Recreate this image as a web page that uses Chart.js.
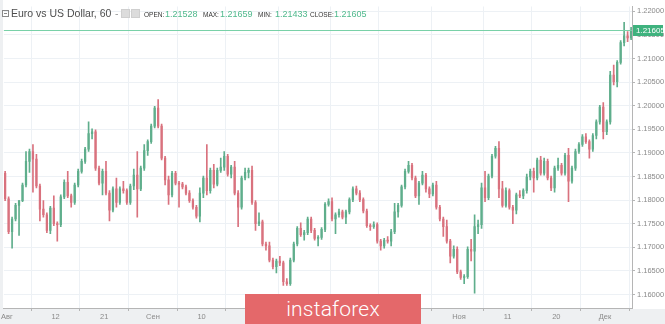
<!DOCTYPE html>
<html>
<head>
<meta charset="utf-8">
<script src="https://cdn.jsdelivr.net/npm/chart.js@4.4.1/dist/chart.umd.min.js"></script>
<style>
  body { margin: 0; background: #fff; }
  #wrap { position: relative; width: 665px; height: 324px; overflow: hidden; background: #fff; }
  #chart { position: absolute; left: 0; top: 0; }
  .hd { position: absolute; top: 7px; white-space: nowrap; font-family: "Liberation Sans", Arial, sans-serif; line-height: 12px; }
  .title { font-size: 10.5px; color: #4d4d4d; }
  .lbl { font-size: 6.5px; color: #333; top: 9px; }
  .val { font-size: 9px; color: #4fb98c; top: 8px; }
  .box { position: absolute; width: 5px; height: 5px; border: 1px solid #888; top: 10px; }
  .box:after { content: ""; position: absolute; left: 1px; right: 1px; top: 2px; height: 1px; background: #888; }
  .ico { position: absolute; top: 9px; width: 7px; height: 7px; background: #dcdcdc; border: 1px solid #cfcfcf; }
  #wm { position: absolute; left: 245px; top: 294px; width: 176px; height: 32px; background: #e4686a;
        color: #fff; font-family: Roboto, "Open Sans", sans-serif; font-weight: 300; font-size: 21px;
        text-align: center; line-height: 30px; letter-spacing: 0.2px; }
</style>
</head>
<body>
<div id="wrap">
  <canvas id="chart" width="665" height="324"></canvas>
  <div class="box" style="left:2px"></div>
  <div class="hd title" style="left:11px">Euro vs US Dollar, 60</div>
  <div class="hd title" style="left:115px;color:#999">-</div>
  <div class="ico" style="left:121px"></div>
  <div class="ico" style="left:131px"></div>
  <div class="hd lbl" style="left:144px">OPEN:</div>
  <div class="hd val" style="left:165px" id="vOpen"></div>
  <div class="hd lbl" style="left:203px">MAX:</div>
  <div class="hd val" style="left:220px" id="vMax"></div>
  <div class="hd lbl" style="left:258px">MIN:</div>
  <div class="hd val" style="left:275px" id="vMin"></div>
  <div class="hd lbl" style="left:310px">CLOSE:</div>
  <div class="hd val" style="left:334px" id="vClose"></div>
  <div id="wm">instaforex</div>
</div>
<script>
// EUR/USD (31 Jul - 4 Dec)
const opens = [
  1.1857, 1.1803, 1.1733, 1.1760, 1.1789, 1.1799, 1.1832, 1.1882, 1.1903, 1.1887,
  1.1830, 1.1781, 1.1769, 1.1736, 1.1783, 1.1750, 1.1748, 1.1807, 1.1838, 1.1809,
  1.1795, 1.1832, 1.1861, 1.1882, 1.1908, 1.1941, 1.1945, 1.1868, 1.1836, 1.1861,
  1.1815, 1.1779, 1.1824, 1.1795, 1.1824, 1.1820, 1.1795, 1.1830, 1.1853, 1.1824,
  1.1868, 1.1905, 1.1924, 1.1957, 1.1995, 1.1957, 1.1889, 1.1843, 1.1811, 1.1857,
  1.1836, 1.1834, 1.1828, 1.1815, 1.1799, 1.1785, 1.1766, 1.1815, 1.1847, 1.1820,
  1.1863, 1.1834, 1.1863, 1.1870, 1.1893, 1.1855, 1.1870, 1.1815, 1.1785, 1.1847,
  1.1859, 1.1863, 1.1795, 1.1750, 1.1754, 1.1707, 1.1703, 1.1673, 1.1659, 1.1671,
  1.1667, 1.1627, 1.1623, 1.1673, 1.1707, 1.1740, 1.1727, 1.1731, 1.1760, 1.1736,
  1.1719, 1.1721, 1.1738, 1.1791, 1.1797, 1.1760, 1.1769, 1.1775, 1.1764, 1.1775,
  1.1801, 1.1824, 1.1815, 1.1801, 1.1777, 1.1746, 1.1744, 1.1748, 1.1713, 1.1703,
  1.1715, 1.1713, 1.1733, 1.1775, 1.1789, 1.1828, 1.1861, 1.1874, 1.1847, 1.1809,
  1.1836, 1.1853, 1.1824, 1.1813, 1.1832, 1.1785, 1.1760, 1.1744, 1.1713, 1.1681,
  1.1696, 1.1648, 1.1636, 1.1638, 1.1696, 1.1692, 1.1744, 1.1748, 1.1826, 1.1805,
  1.1851, 1.1893, 1.1910, 1.1824, 1.1789, 1.1820, 1.1785, 1.1779, 1.1811, 1.1809,
  1.1820, 1.1849, 1.1861, 1.1847, 1.1885, 1.1857, 1.1882, 1.1847, 1.1826, 1.1868,
  1.1874, 1.1857, 1.1895, 1.1840, 1.1868, 1.1903, 1.1918, 1.1934, 1.1924, 1.1908,
  1.1937, 1.1966, 1.1997, 1.1945, 1.1966, 1.2065, 1.2051, 1.2092, 1.2134, 1.2148,
  1.2144
];
const highs = [
  1.1861, 1.1807, 1.1764, 1.1793, 1.1799, 1.1836, 1.1903, 1.1908, 1.1918, 1.1897,
  1.1834, 1.1799, 1.1773, 1.1787, 1.1809, 1.1754, 1.1811, 1.1843, 1.1861, 1.1813,
  1.1836, 1.1866, 1.1887, 1.1912, 1.1966, 1.1951, 1.1949, 1.1872, 1.1866, 1.1882,
  1.1820, 1.1828, 1.1847, 1.1828, 1.1840, 1.1824, 1.1834, 1.1866, 1.1903, 1.1872,
  1.1918, 1.1928, 1.1961, 1.1999, 1.2013, 1.1961, 1.1893, 1.1851, 1.1861, 1.1861,
  1.1840, 1.1838, 1.1832, 1.1820, 1.1803, 1.1789, 1.1826, 1.1851, 1.1918, 1.1868,
  1.1876, 1.1868, 1.1889, 1.1903, 1.1897, 1.1874, 1.1882, 1.1820, 1.1851, 1.1868,
  1.1868, 1.1872, 1.1799, 1.1773, 1.1758, 1.1711, 1.1711, 1.1677, 1.1675, 1.1681,
  1.1671, 1.1634, 1.1677, 1.1711, 1.1744, 1.1752, 1.1736, 1.1764, 1.1764, 1.1740,
  1.1725, 1.1742, 1.1795, 1.1803, 1.1805, 1.1773, 1.1781, 1.1779, 1.1779, 1.1805,
  1.1828, 1.1830, 1.1820, 1.1805, 1.1781, 1.1750, 1.1754, 1.1752, 1.1717, 1.1719,
  1.1723, 1.1738, 1.1793, 1.1793, 1.1832, 1.1866, 1.1882, 1.1878, 1.1851, 1.1840,
  1.1861, 1.1857, 1.1828, 1.1836, 1.1840, 1.1789, 1.1764, 1.1758, 1.1717, 1.1703,
  1.1701, 1.1652, 1.1642, 1.1701, 1.1717, 1.1769, 1.1758, 1.1836, 1.1861, 1.1855,
  1.1897, 1.1914, 1.1924, 1.1840, 1.1826, 1.1824, 1.1789, 1.1815, 1.1820, 1.1824,
  1.1855, 1.1866, 1.1868, 1.1889, 1.1893, 1.1889, 1.1887, 1.1851, 1.1872, 1.1889,
  1.1878, 1.1899, 1.1910, 1.1872, 1.1908, 1.1922, 1.1939, 1.1941, 1.1928, 1.1941,
  1.1970, 1.2001, 1.2007, 1.1970, 1.2073, 1.2086, 1.2096, 1.2138, 1.2177, 1.2157,
  1.2166
];
const lows = [
  1.1799, 1.1729, 1.1698, 1.1756, 1.1725, 1.1797, 1.1828, 1.1859, 1.1817, 1.1826,
  1.1756, 1.1764, 1.1731, 1.1729, 1.1746, 1.1713, 1.1744, 1.1803, 1.1805, 1.1785,
  1.1791, 1.1828, 1.1857, 1.1878, 1.1903, 1.1930, 1.1863, 1.1832, 1.1811, 1.1811,
  1.1756, 1.1775, 1.1785, 1.1791, 1.1815, 1.1791, 1.1791, 1.1822, 1.1764, 1.1820,
  1.1863, 1.1895, 1.1920, 1.1953, 1.1953, 1.1885, 1.1832, 1.1791, 1.1807, 1.1832,
  1.1785, 1.1824, 1.1811, 1.1795, 1.1781, 1.1762, 1.1754, 1.1805, 1.1811, 1.1815,
  1.1826, 1.1830, 1.1859, 1.1863, 1.1851, 1.1847, 1.1811, 1.1744, 1.1781, 1.1843,
  1.1847, 1.1791, 1.1736, 1.1746, 1.1703, 1.1694, 1.1669, 1.1654, 1.1646, 1.1661,
  1.1619, 1.1619, 1.1619, 1.1669, 1.1703, 1.1723, 1.1715, 1.1727, 1.1731, 1.1715,
  1.1703, 1.1717, 1.1733, 1.1787, 1.1756, 1.1729, 1.1764, 1.1760, 1.1750, 1.1771,
  1.1797, 1.1811, 1.1797, 1.1773, 1.1742, 1.1736, 1.1740, 1.1709, 1.1694, 1.1698,
  1.1709, 1.1703, 1.1729, 1.1764, 1.1785, 1.1824, 1.1857, 1.1843, 1.1805, 1.1791,
  1.1832, 1.1817, 1.1805, 1.1809, 1.1781, 1.1756, 1.1723, 1.1709, 1.1667, 1.1677,
  1.1644, 1.1632, 1.1623, 1.1634, 1.1671, 1.1603, 1.1729, 1.1740, 1.1797, 1.1801,
  1.1847, 1.1889, 1.1805, 1.1785, 1.1785, 1.1781, 1.1750, 1.1771, 1.1805, 1.1803,
  1.1815, 1.1843, 1.1817, 1.1843, 1.1853, 1.1853, 1.1843, 1.1820, 1.1817, 1.1863,
  1.1853, 1.1853, 1.1797, 1.1836, 1.1863, 1.1899, 1.1914, 1.1920, 1.1889, 1.1903,
  1.1930, 1.1961, 1.1930, 1.1939, 1.1961, 1.2044, 1.2040, 1.2088, 1.2127, 1.2136,
  1.2140
];
const closes = [
  1.1803, 1.1733, 1.1760, 1.1789, 1.1799, 1.1832, 1.1882, 1.1903, 1.1887, 1.1830,
  1.1781, 1.1769, 1.1736, 1.1783, 1.1750, 1.1748, 1.1807, 1.1838, 1.1809, 1.1795,
  1.1832, 1.1861, 1.1882, 1.1908, 1.1941, 1.1945, 1.1868, 1.1836, 1.1861, 1.1815,
  1.1779, 1.1824, 1.1795, 1.1824, 1.1820, 1.1795, 1.1830, 1.1853, 1.1824, 1.1868,
  1.1905, 1.1924, 1.1957, 1.1995, 1.1957, 1.1889, 1.1843, 1.1811, 1.1857, 1.1836,
  1.1834, 1.1828, 1.1815, 1.1799, 1.1785, 1.1766, 1.1815, 1.1847, 1.1820, 1.1863,
  1.1834, 1.1863, 1.1870, 1.1893, 1.1855, 1.1870, 1.1815, 1.1785, 1.1847, 1.1859,
  1.1863, 1.1795, 1.1750, 1.1754, 1.1707, 1.1703, 1.1673, 1.1659, 1.1671, 1.1667,
  1.1627, 1.1623, 1.1673, 1.1707, 1.1740, 1.1727, 1.1731, 1.1760, 1.1736, 1.1719,
  1.1721, 1.1738, 1.1791, 1.1797, 1.1760, 1.1769, 1.1775, 1.1764, 1.1775, 1.1801,
  1.1824, 1.1815, 1.1801, 1.1777, 1.1746, 1.1744, 1.1748, 1.1713, 1.1703, 1.1715,
  1.1713, 1.1733, 1.1775, 1.1789, 1.1828, 1.1861, 1.1874, 1.1847, 1.1809, 1.1836,
  1.1853, 1.1824, 1.1813, 1.1832, 1.1785, 1.1760, 1.1744, 1.1713, 1.1681, 1.1696,
  1.1648, 1.1636, 1.1638, 1.1696, 1.1692, 1.1744, 1.1748, 1.1826, 1.1805, 1.1851,
  1.1893, 1.1910, 1.1824, 1.1789, 1.1820, 1.1785, 1.1779, 1.1811, 1.1809, 1.1820,
  1.1849, 1.1861, 1.1847, 1.1885, 1.1857, 1.1882, 1.1847, 1.1826, 1.1868, 1.1874,
  1.1857, 1.1895, 1.1840, 1.1868, 1.1903, 1.1918, 1.1934, 1.1924, 1.1908, 1.1937,
  1.1966, 1.1997, 1.1945, 1.1966, 1.2065, 1.2051, 1.2092, 1.2134, 1.2148, 1.2144,
  1.21605
];

// x axis counts trading days from 3 Aug; ticks sit at the start of the day
const tickDays = [0, 7, 14, 21, 28, 35, 43, 50, 57, 65, 72, 79, 86];
const tickLabels = ["Авг", "12", "21", "Сен", "10", "21", "Окт", "12", "21", "Ноя", "11", "20", "Дек"];
const priceTicks = [1.16, 1.165, 1.17, 1.175, 1.18, 1.185, 1.19, 1.195, 1.2, 1.205, 1.21, 1.215, 1.22];

// last hourly bar shown in the header
const lastBar = { open: 1.21528, max: 1.21659, min: 1.21433, close: 1.21605 };

document.getElementById("vOpen").textContent = lastBar.open.toFixed(5);
document.getElementById("vMax").textContent = lastBar.max.toFixed(5);
document.getElementById("vMin").textContent = lastBar.min.toFixed(5);
document.getElementById("vClose").textContent = lastBar.close.toFixed(5);

const UP = "#5fae8c";
const DOWN = "#d9727e";

// each candle is a half day; the first one starts at noon on 31 Jul (day -0.5)
const slotX = (i) => -0.25 + i * 0.5;
const colors = closes.map((c, i) => (c >= opens[i] ? UP : DOWN));

const wicks = highs.map((h, i) => ({ x: slotX(i), y: [lows[i], h] }));
const bodies = closes.map((c, i) => ({ x: slotX(i), y: [opens[i], c] }));

// horizontal line + green label at the last close
const lastPriceLine = {
  id: "lastPriceLine",
  afterDatasetsDraw(chart) {
    const { ctx, chartArea, scales } = chart;
    const y = Math.round(scales.y.getPixelForValue(lastBar.close)) + 0.5;
    ctx.save();
    ctx.strokeStyle = "#79d1a8";
    ctx.lineWidth = 1;
    ctx.beginPath();
    ctx.moveTo(chartArea.left, y);
    ctx.lineTo(chartArea.right, y);
    ctx.stroke();
    ctx.fillStyle = "#3fb27e";
    ctx.fillRect(chartArea.right + 1, y - 5.5, 30, 11);
    ctx.fillStyle = "#fff";
    ctx.font = "8px 'Liberation Sans', Arial, sans-serif";
    ctx.textBaseline = "middle";
    ctx.textAlign = "left";
    ctx.fillText(lastBar.close.toFixed(5), chartArea.right + 4, y + 0.5);
    ctx.restore();
  },
};

// thin grey strips round the plot like the source widget
const frame = {
  id: "frame",
  beforeDraw(chart) {
    const { ctx } = chart;
    ctx.save();
    ctx.fillStyle = "#fff";
    ctx.fillRect(0, 0, chart.width, chart.height);
    ctx.fillStyle = "#eef0f2";
    ctx.fillRect(0, 0, 3, chart.height);
    ctx.fillRect(0, 309, chart.width, chart.height - 309);
    ctx.restore();
  },
};

new Chart(document.getElementById("chart"), {
  type: "bar",
  data: {
    datasets: [
      {
        label: "wick",
        data: wicks,
        backgroundColor: colors,
        barThickness: 1,
        grouped: false,
        minBarLength: 1,
      },
      {
        label: "body",
        data: bodies,
        backgroundColor: colors,
        barThickness: 1.6,
        grouped: false,
        minBarLength: 1,
      },
    ],
  },
  options: {
    responsive: false,
    animation: false,
    layout: { padding: { left: 3, top: 0, right: 0, bottom: 0 } },
    plugins: {
      legend: { display: false },
      tooltip: { enabled: false },
    },
    scales: {
      x: {
        type: "linear",
        offset: false,
        min: -0.43,
        max: 89.88,
        afterBuildTicks: (scale) => {
          scale.ticks = tickDays.map((d) => ({ value: d }));
        },
        afterFit: (scale) => {
          scale.height = 16;
        },
        ticks: {
          autoSkip: false,
          maxRotation: 0,
          padding: 1,
          color: "#8a8a8a",
          font: { family: "'Liberation Sans', Arial, sans-serif", size: 7.5 },
          callback: (v) => tickLabels[tickDays.indexOf(v)],
        },
        grid: { color: "#edf1f5", tickColor: "#b5b5b5", tickLength: 3 },
        border: { color: "#b5b5b5" },
      },
      y: {
        position: "right",
        min: 1.15714,
        max: 1.22104,
        afterBuildTicks: (scale) => {
          scale.ticks = priceTicks.map((v) => ({ value: v }));
        },
        afterFit: (scale) => {
          scale.width = 33;
        },
        ticks: {
          padding: 2,
          color: "#8a8a8a",
          font: { family: "'Liberation Sans', Arial, sans-serif", size: 7.5 },
          callback: (v) => v.toFixed(5),
        },
        grid: { color: "#edf1f5", tickColor: "#b5b5b5", tickLength: 3 },
        border: { color: "#b5b5b5" },
      },
    },
  },
  plugins: [frame, lastPriceLine],
});
</script>
</body>
</html>
